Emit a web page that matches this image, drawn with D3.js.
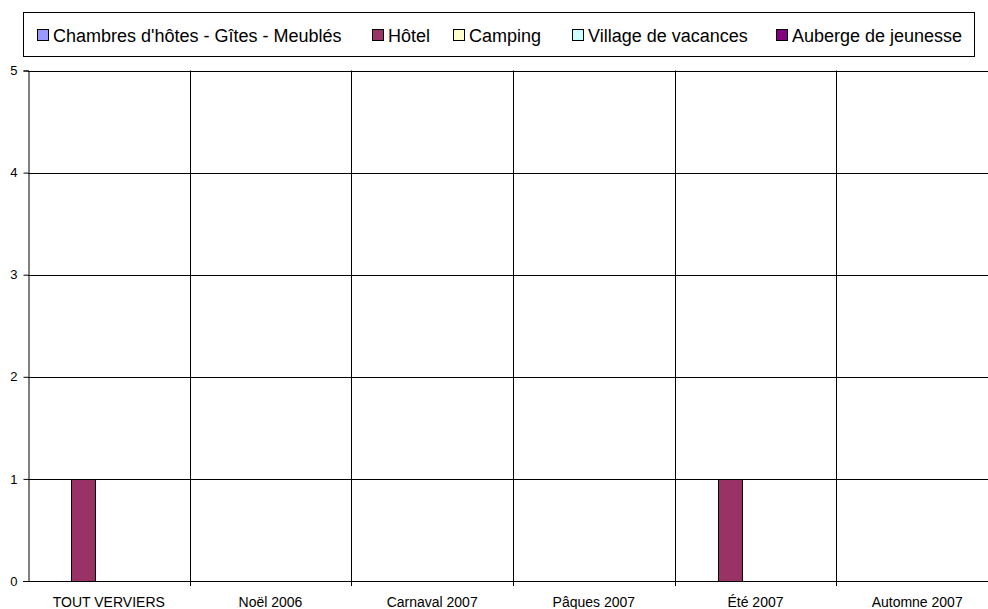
<!DOCTYPE html>
<html><head><meta charset="utf-8">
<script src="https://cdn.jsdelivr.net/npm/d3@7"></script>
<style>body{margin:0;background:#fff}svg{display:block;font-family:"Liberation Sans",Arial,sans-serif}</style>
</head><body><svg id="c" width="988" height="609"></svg>
<script>
const categories = ["TOUT VERVIERS","Noël 2006","Carnaval 2007","Pâques 2007","Été 2007","Automne 2007"];
const seriesNames = ["Chambres d'hôtes - Gîtes - Meublés","Hôtel","Camping","Village de vacances","Auberge de jeunesse"];
const seriesColors = ["#9999FF","#993366","#FFFFCC","#CCFFFF","#800080"];
const chambres = [0,0,0,0,0,0];
const hotel = [1,0,0,0,1,0];
const camping = [0,0,0,0,0,0];
const village = [0,0,0,0,0,0];
const auberge = [0,0,0,0,0,0];
const seriesValues = [chambres, hotel, camping, village, auberge];
const yTicks = [0,1,2,3,4,5];
const legendX = [37, 372, 453, 572, 776];

const svg = d3.select("#c");
const x = d3.scaleBand().domain(categories).range([28, 998]).paddingInner(0).paddingOuter(0);
const xs = d3.scaleBand().domain(seriesNames).range([0, x.bandwidth()]).paddingInner(0).paddingOuter(0.74);
const y = d3.scaleLinear().domain([0,5]).range([581, 70.5]);

// horizontal gridlines
svg.append("g").selectAll("line").data(yTicks.filter(d=>d>0)).join("line")
  .attr("x1", 28).attr("x2", 988).attr("y1", d=>Math.round(y(d))+0.5).attr("y2", d=>Math.round(y(d))+0.5)
  .attr("stroke", "#000").attr("stroke-width", 1);
// vertical gridlines at category boundaries
const bounds = categories.slice(1).map(c => x(c));
svg.append("g").selectAll("line").data(bounds).join("line")
  .attr("x1", d=>Math.round(d)+0.5).attr("x2", d=>Math.round(d)+0.5).attr("y1", 70.5).attr("y2", 586)
  .attr("stroke", "#000").attr("stroke-width", 1);

// bars
const barData = [];
seriesValues.forEach((vals, si) => vals.forEach((v, ci) => { if (v > 0) barData.push({s: seriesNames[si], c: categories[ci], v, color: seriesColors[si]}); }));
svg.append("g").selectAll("rect").data(barData).join("rect")
  .attr("x", d => Math.round(x(d.c) + xs(d.s)) + 0.5)
  .attr("y", d => Math.round(y(d.v)) + 0.5)
  .attr("width", xs.bandwidth() - 1)
  .attr("height", d => Math.round(y(0)) - Math.round(y(d.v)))
  .attr("fill", d => d.color).attr("stroke", "#000").attr("stroke-width", 1);

// y axis
const ya = svg.append("g").attr("transform", "translate(28.5,0)")
  .call(d3.axisLeft(y).tickValues(yTicks).tickSize(5).tickPadding(6).tickFormat(d3.format("d")));
ya.select(".domain").attr("stroke", "#000");
ya.selectAll("line").attr("stroke", "#000");
ya.selectAll("text").attr("font-size", 13).attr("font-family", "Liberation Sans, Arial, sans-serif").attr("fill", "#000");

// x axis
const xa = svg.append("g").attr("transform", "translate(0," + (Math.round(y(0))+0.5) + ")");
xa.append("line").attr("x1", 23).attr("x2", 988).attr("y1", 0).attr("y2", 0).attr("stroke", "#000");
xa.selectAll("text").data(categories).join("text")
  .attr("x", d => x(d) + x.bandwidth()/2).attr("y", 25).attr("text-anchor", "middle")
  .attr("font-size", 14).attr("fill", "#000").text(d => d);

// legend
svg.append("rect").attr("x", 23.5).attr("y", 12.5).attr("width", 951).attr("height", 44)
  .attr("fill", "#fff").attr("stroke", "#000").attr("stroke-width", 1);
const lg = svg.append("g").selectAll("g").data(seriesNames).join("g")
  .attr("transform", (d,i) => `translate(${legendX[i]},0)`);
lg.append("rect").attr("x", 0.5).attr("y", 29.5).attr("width", 11).attr("height", 11)
  .attr("fill", (d,i) => seriesColors[i]).attr("stroke", "#000");
lg.append("text").attr("x", 16).attr("y", 42).attr("font-size", 18).attr("fill", "#000").text(d => d);
</script></body></html>
